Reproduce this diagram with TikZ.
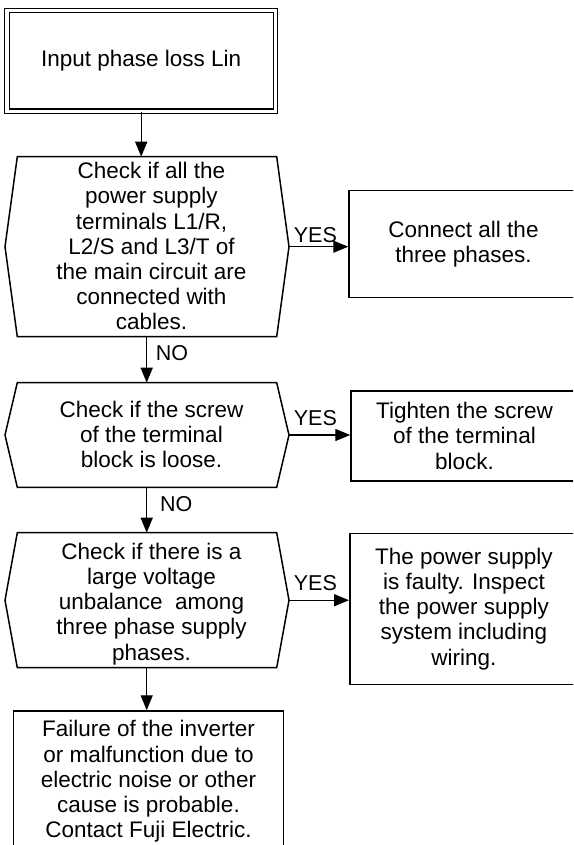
\documentclass[tikz,border=0pt]{standalone}
\usepackage{fontspec}
\setmainfont{Liberation Sans}
\usetikzlibrary{arrows.meta}
\newcommand\hexshape[3]{%
  \draw[outline] (5,{(#2+#3)/2}) -- (17.3,#2) -- (276.7,#2) -- (289,{(#2+#3)/2})
     -- (276.7,#3) -- (17.3,#3) -- cycle;
  \coordinate (#1n) at (146.7,#2);
  \coordinate (#1s) at (146.7,#3);
  \coordinate (#1e) at (289,{(#2+#3)/2});
}
\begin{document}
\begin{tikzpicture}[x=1pt,y=-1pt,
  every node/.style={font=\fontsize{22.5}{25.2}\selectfont, inner sep=0pt},
  outline/.style={draw=black, line width=1.5pt, line join=miter},
  procbox/.style={outline, rectangle, align=center},
  hextext/.style={align=center},
  flow/.style={draw=black, line width=1.4pt, -{Triangle[length=15pt,width=12pt]}},
  answer/.style={font=\fontsize{21.5}{24}\selectfont, anchor=base west}]
\clip (0,0) rectangle (573,845);
\fill[white] (0,0) rectangle (573,845);

% start box
\node[procbox, double, double distance=3.1pt, line width=1.4pt, minimum width=268.5pt, minimum height=100.7pt]
  (start) at (141.2,60.9) {Input phase loss Lin};

% hexagons
\hexshape{h1}{156.7}{336.7}
\node[hextext] (t1) at (151.5,246.3) {Check if all the\\power supply\\terminals L1/R,\\L2/S and L3/T of\\the main circuit are\\connected with\\cables.};
\hexshape{h2}{382.7}{487.3}
\node[hextext] (t2) at (151.5,434.2) {Check if the screw\\of the terminal\\block is loose.};
\hexshape{h3}{532.7}{667.7}
\node[hextext] (t3) at (151.5,603.8) {Check if there is a\\large voltage\\unbalance~~among\\three phase supply\\phases.};

% boxes
\node[procbox, minimum width=229pt, minimum height=107pt] (b1) at (463.5,244.2)
  {Connect all the\\three phases.};
\node[procbox, minimum width=227pt, minimum height=90.3pt] (b2) at (464.5,435.9)
  {Tighten the screw\\of the terminal\\block.};
\node[procbox, minimum width=228.3pt, minimum height=151pt] (b3) at (463.9,608.8)
  {The power supply\\is faulty. Inspect\\the power supply\\system including\\wiring.};
\node[procbox, minimum width=270.4pt, minimum height=141pt] (fin) at (148.5,781.5)
  {Failure of the inverter\\or malfunction due to\\electric noise or other\\cause is probable.\\Contact Fuji Electric.};

% connectors
\draw[flow] (start.south) -- (start.south |- h1n);
\draw[flow] (h1s) -- (h2n);
\draw[flow] (h2s) -- (h3n);
\draw[flow] (h3s) -- (h3s |- fin.north);
\draw[flow] (h1e) -- (b1.west |- h1e);
\draw[flow] (h2e) -- (b2.west |- h2e);
\draw[flow] (h3e) -- (b3.west |- h3e);

% labels
\node[answer] (yes1) at (293.7,242.7) {YES};
\node[answer] (yes2) at (293.7,425) {YES};
\node[answer] (yes3) at (293.7,590) {YES};
\node[answer] (no1) at (155.7,360) {NO};
\node[answer] (no2) at (160,511.7) {NO};
\end{tikzpicture}
\end{document}
